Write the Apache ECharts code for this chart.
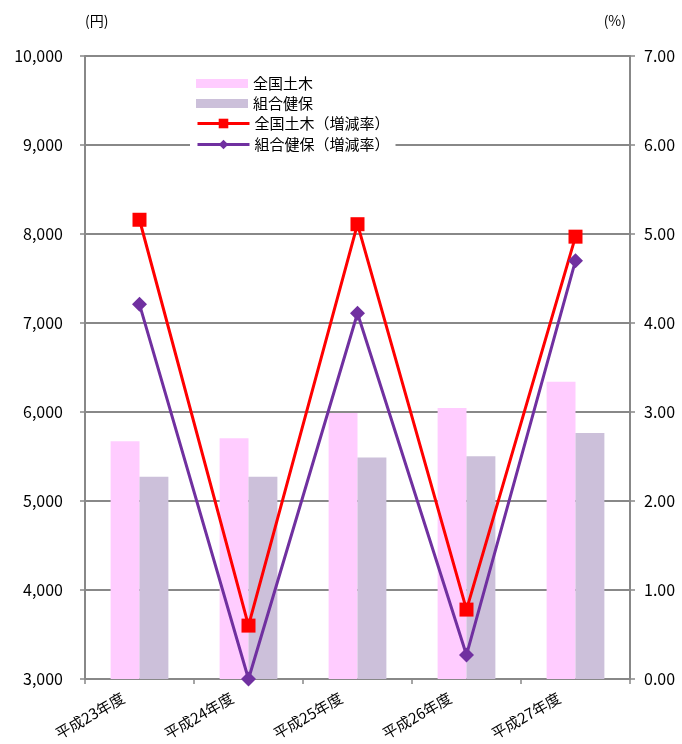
<!DOCTYPE html>
<html><head><meta charset="utf-8">
<script src="https://cdn.jsdelivr.net/npm/echarts@6/dist/echarts.min.js"></script>
<style>html,body{margin:0;padding:0;background:#fff}#c{width:682px;height:744px}</style>
</head><body><div id="c"></div>
<script>
const categories = ['平成23年度','平成24年度','平成25年度','平成26年度','平成27年度'];
const seriesNames = ['全国土木','組合健保','全国土木（増減率）','組合健保（増減率）'];
const barZenkoku = [5670, 5705, 5990, 6045, 6340];
const barKumiai = [5273, 5273, 5489, 5503, 5765];
const rateZenkoku = [5.16, 0.60, 5.11, 0.78, 4.97];
const rateKumiai = [4.21, 0.00, 4.11, 0.27, 4.70];

const FONT = 'Noto Sans CJK JP';
const chart = echarts.init(document.getElementById('c'), null, {renderer:'canvas'});
const legendText = {fontSize:15, color:'#000', fontFamily:FONT};
chart.setOption({
  backgroundColor:'#fff',
  animation:false,
  textStyle:{fontFamily:FONT},
  grid:{left:85, right:52, top:56, bottom:65, outerBoundsMode:'none', containLabel:false},
  legend:[
    {orient:'vertical', left:190, top:72, itemWidth:52, itemHeight:9, itemGap:5,
     backgroundColor:'#fff', padding:[4,30,0,6], textStyle:legendText,
     data:[{name:seriesNames[0], icon:'rect'},{name:seriesNames[1], icon:'rect'}]},
    {orient:'vertical', left:190, top:116, itemWidth:52, itemHeight:12, itemGap:6,
     backgroundColor:'#fff', padding:[0,6,4,6], textStyle:legendText,
     lineStyle:{width:3},
     data:[{name:seriesNames[2]},{name:seriesNames[3]}]}
  ],
  xAxis:{
    type:'category', data:categories,
    axisLine:{lineStyle:{color:'#888', width:2}},
    axisTick:{show:true, lineStyle:{color:'#888', width:1.5}, length:5},
    axisLabel:{rotate:30, fontSize:15, color:'#000', margin:8, padding:[0,19,0,0], fontFamily:FONT}
  },
  yAxis:[
    {type:'value', min:3000, max:10000, interval:1000, name:'(円)', nameGap:28,
     nameTextStyle:{fontSize:14, color:'#000', align:'left'},
     axisLine:{show:true, lineStyle:{color:'#888', width:2}},
     axisTick:{show:true, length:5, lineStyle:{color:'#888', width:1.5}},
     axisLabel:{fontSize:16, color:'#000', margin:22, formatter:v=>v.toLocaleString('en-US')},
     splitLine:{lineStyle:{color:'#888', width:2}}},
    {type:'value', min:0, max:7, interval:1, name:'(%)', nameGap:28,
     nameTextStyle:{fontSize:14, color:'#000', align:'right', padding:[0,4,0,0]},
     axisLine:{show:true, lineStyle:{color:'#888', width:2}},
     axisTick:{show:true, length:5, lineStyle:{color:'#888', width:1.5}},
     axisLabel:{fontSize:16, color:'#000', margin:14, formatter:v=>v.toFixed(2)},
     splitLine:{show:false}}
  ],
  series:[
    {name:seriesNames[0], type:'bar', data:barZenkoku, barGap:'0%', barCategoryGap:'47%',
     itemStyle:{color:'#FFCCFF'}},
    {name:seriesNames[1], type:'bar', data:barKumiai, itemStyle:{color:'#CCC0DA'}},
    {name:seriesNames[2], type:'line', yAxisIndex:1, data:rateZenkoku, symbol:'rect', symbolSize:14,
     lineStyle:{color:'#FF0000', width:3}, itemStyle:{color:'#FF0000'}},
    {name:seriesNames[3], type:'line', yAxisIndex:1, data:rateKumiai, symbol:'diamond', symbolSize:15,
     lineStyle:{color:'#7030A0', width:3}, itemStyle:{color:'#7030A0'}}
  ]
});
</script></body></html>
